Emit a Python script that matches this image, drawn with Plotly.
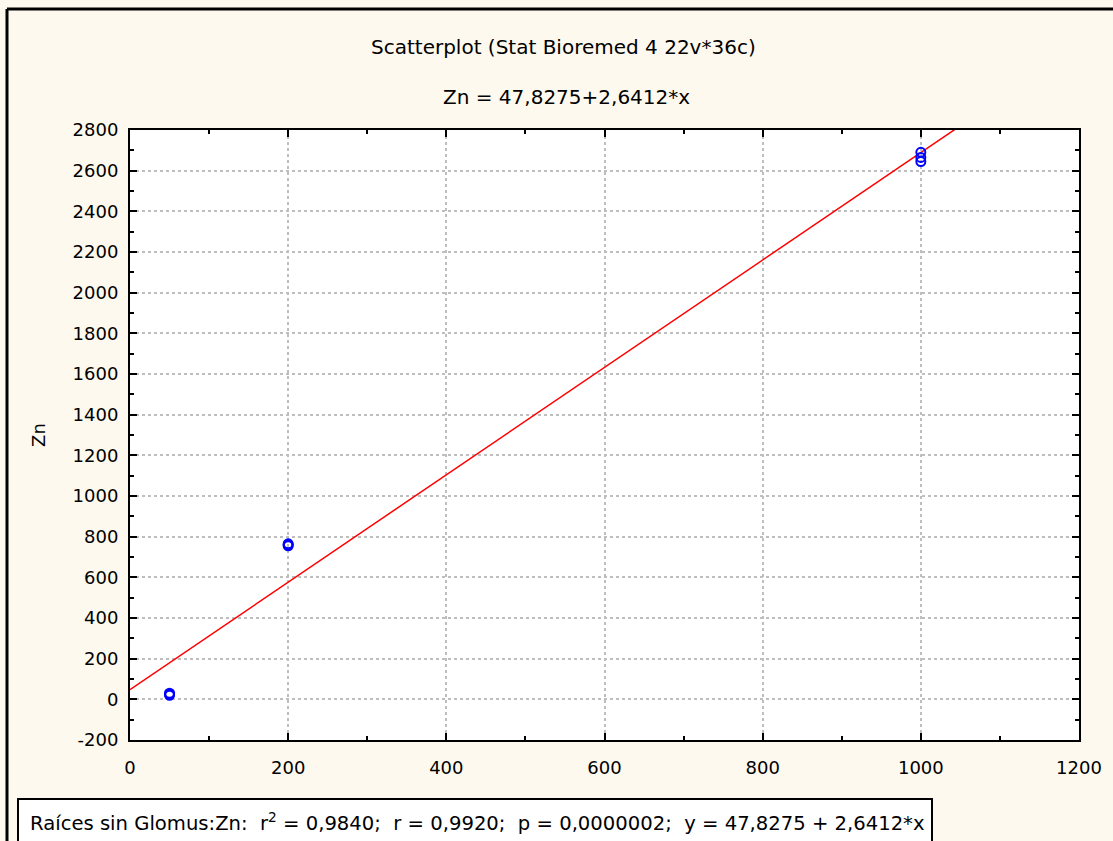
import plotly.graph_objects as go

# ---- data ----
x_vals = [50, 50, 50, 200, 200, 200, 1000, 1000, 1000]
zn_vals = [20, 25, 30, 755, 760, 765, 2690, 2645, 2665]
intercept = 47.8275
slope = 2.6412
x_ticks = [0, 200, 400, 600, 800, 1000, 1200]
y_ticks = [-200, 0, 200, 400, 600, 800, 1000, 1200, 1400, 1600, 1800, 2000, 2200, 2400, 2600, 2800]

title1 = "Scatterplot (Stat Bioremed 4 22v*36c)"
title2 = "Zn = 47,8275+2,6412*x"
legend_text = ("Raíces sin Glomus:Zn:  r<sup>2</sup> = 0,9840;  r = 0,9920;  "
               "p = 0,0000002;  y = 47,8275 + 2,6412*x")

W, H = 1113, 841
L, R, T, B = 130, 1079, 130, 740

def px(xp):
    return (xp - L) / (R - L)

def py(yp):
    return (B - yp) / (B - T)

fit_x = [0, 1200]
fit_y = [intercept + slope * v for v in fit_x]

font_family = "DejaVu Sans, Arial, sans-serif"

fig = go.Figure()
fig.add_trace(go.Scatter(
    x=fit_x, y=fit_y, mode="lines",
    line=dict(color="#FF0000", width=1.5),
    showlegend=False, hoverinfo="skip"))
fig.add_trace(go.Scatter(
    x=x_vals, y=zn_vals, mode="markers",
    marker=dict(symbol="circle-open", size=9, color="#0000FF",
                line=dict(width=2, color="#0000FF")),
    showlegend=False, cliponaxis=False))

axis_common = dict(
    showline=True, linecolor="black", linewidth=2, mirror="ticks",
    ticks="inside", ticklen=7, tickwidth=2, tickcolor="black",
    showgrid=True, gridcolor="#BEBEBE", griddash="dot", gridwidth=1.5,
    zeroline=False,
    tickfont=dict(family=font_family, size=18, color="black"),
)

fig.update_xaxes(
    range=[0, 1200], tickvals=x_ticks, ticktext=[str(v) for v in x_ticks],
    minor=dict(ticks="inside", ticklen=4, tickwidth=2, tickcolor="black",
               dtick=100, showgrid=False),
    ticklabelstandoff=10,
    **axis_common)
fig.update_yaxes(
    range=[-200, 2800], tickvals=y_ticks, ticktext=[str(v) for v in y_ticks],
    minor=dict(ticks="inside", ticklen=4, tickwidth=2, tickcolor="black",
               dtick=100, showgrid=False),
    title=dict(text="Zn", font=dict(family=font_family, size=18, color="black"),
               standoff=22),
    ticklabelstandoff=6,
    **axis_common)

shapes = [
    # outer frame lines
    dict(type="line", xref="paper", yref="paper",
         x0=px(7), x1=px(1120), y0=py(9), y1=py(9),
         line=dict(color="black", width=3)),
    dict(type="line", xref="paper", yref="paper",
         x0=px(7), x1=px(7), y0=py(9), y1=py(850),
         line=dict(color="black", width=3)),
    # legend box
    dict(type="rect", xref="paper", yref="paper",
         x0=px(18), x1=px(932), y0=py(799), y1=py(848),
         fillcolor="white", line=dict(color="black", width=2)),
]

annotations = [
    dict(text=title1, xref="paper", yref="paper", x=px(563), y=py(47),
         showarrow=False, xanchor="center", yanchor="middle",
         font=dict(family=font_family, size=20, color="black")),
    dict(text=title2, xref="paper", yref="paper", x=px(566), y=py(97),
         showarrow=False, xanchor="center", yanchor="middle",
         font=dict(family=font_family, size=20, color="black")),
    dict(text=legend_text, xref="paper", yref="paper", x=px(28), y=py(822),
         showarrow=False, xanchor="left", yanchor="middle",
         font=dict(family=font_family, size=19.6, color="black")),
]

fig.update_layout(
    width=W, height=H,
    margin=dict(l=L, r=W - R, t=T, b=H - B, autoexpand=False),
    paper_bgcolor="#FEF9EE", plot_bgcolor="white",
    shapes=shapes, annotations=annotations,
    showlegend=False,
)

fig.write_html("out.html")
